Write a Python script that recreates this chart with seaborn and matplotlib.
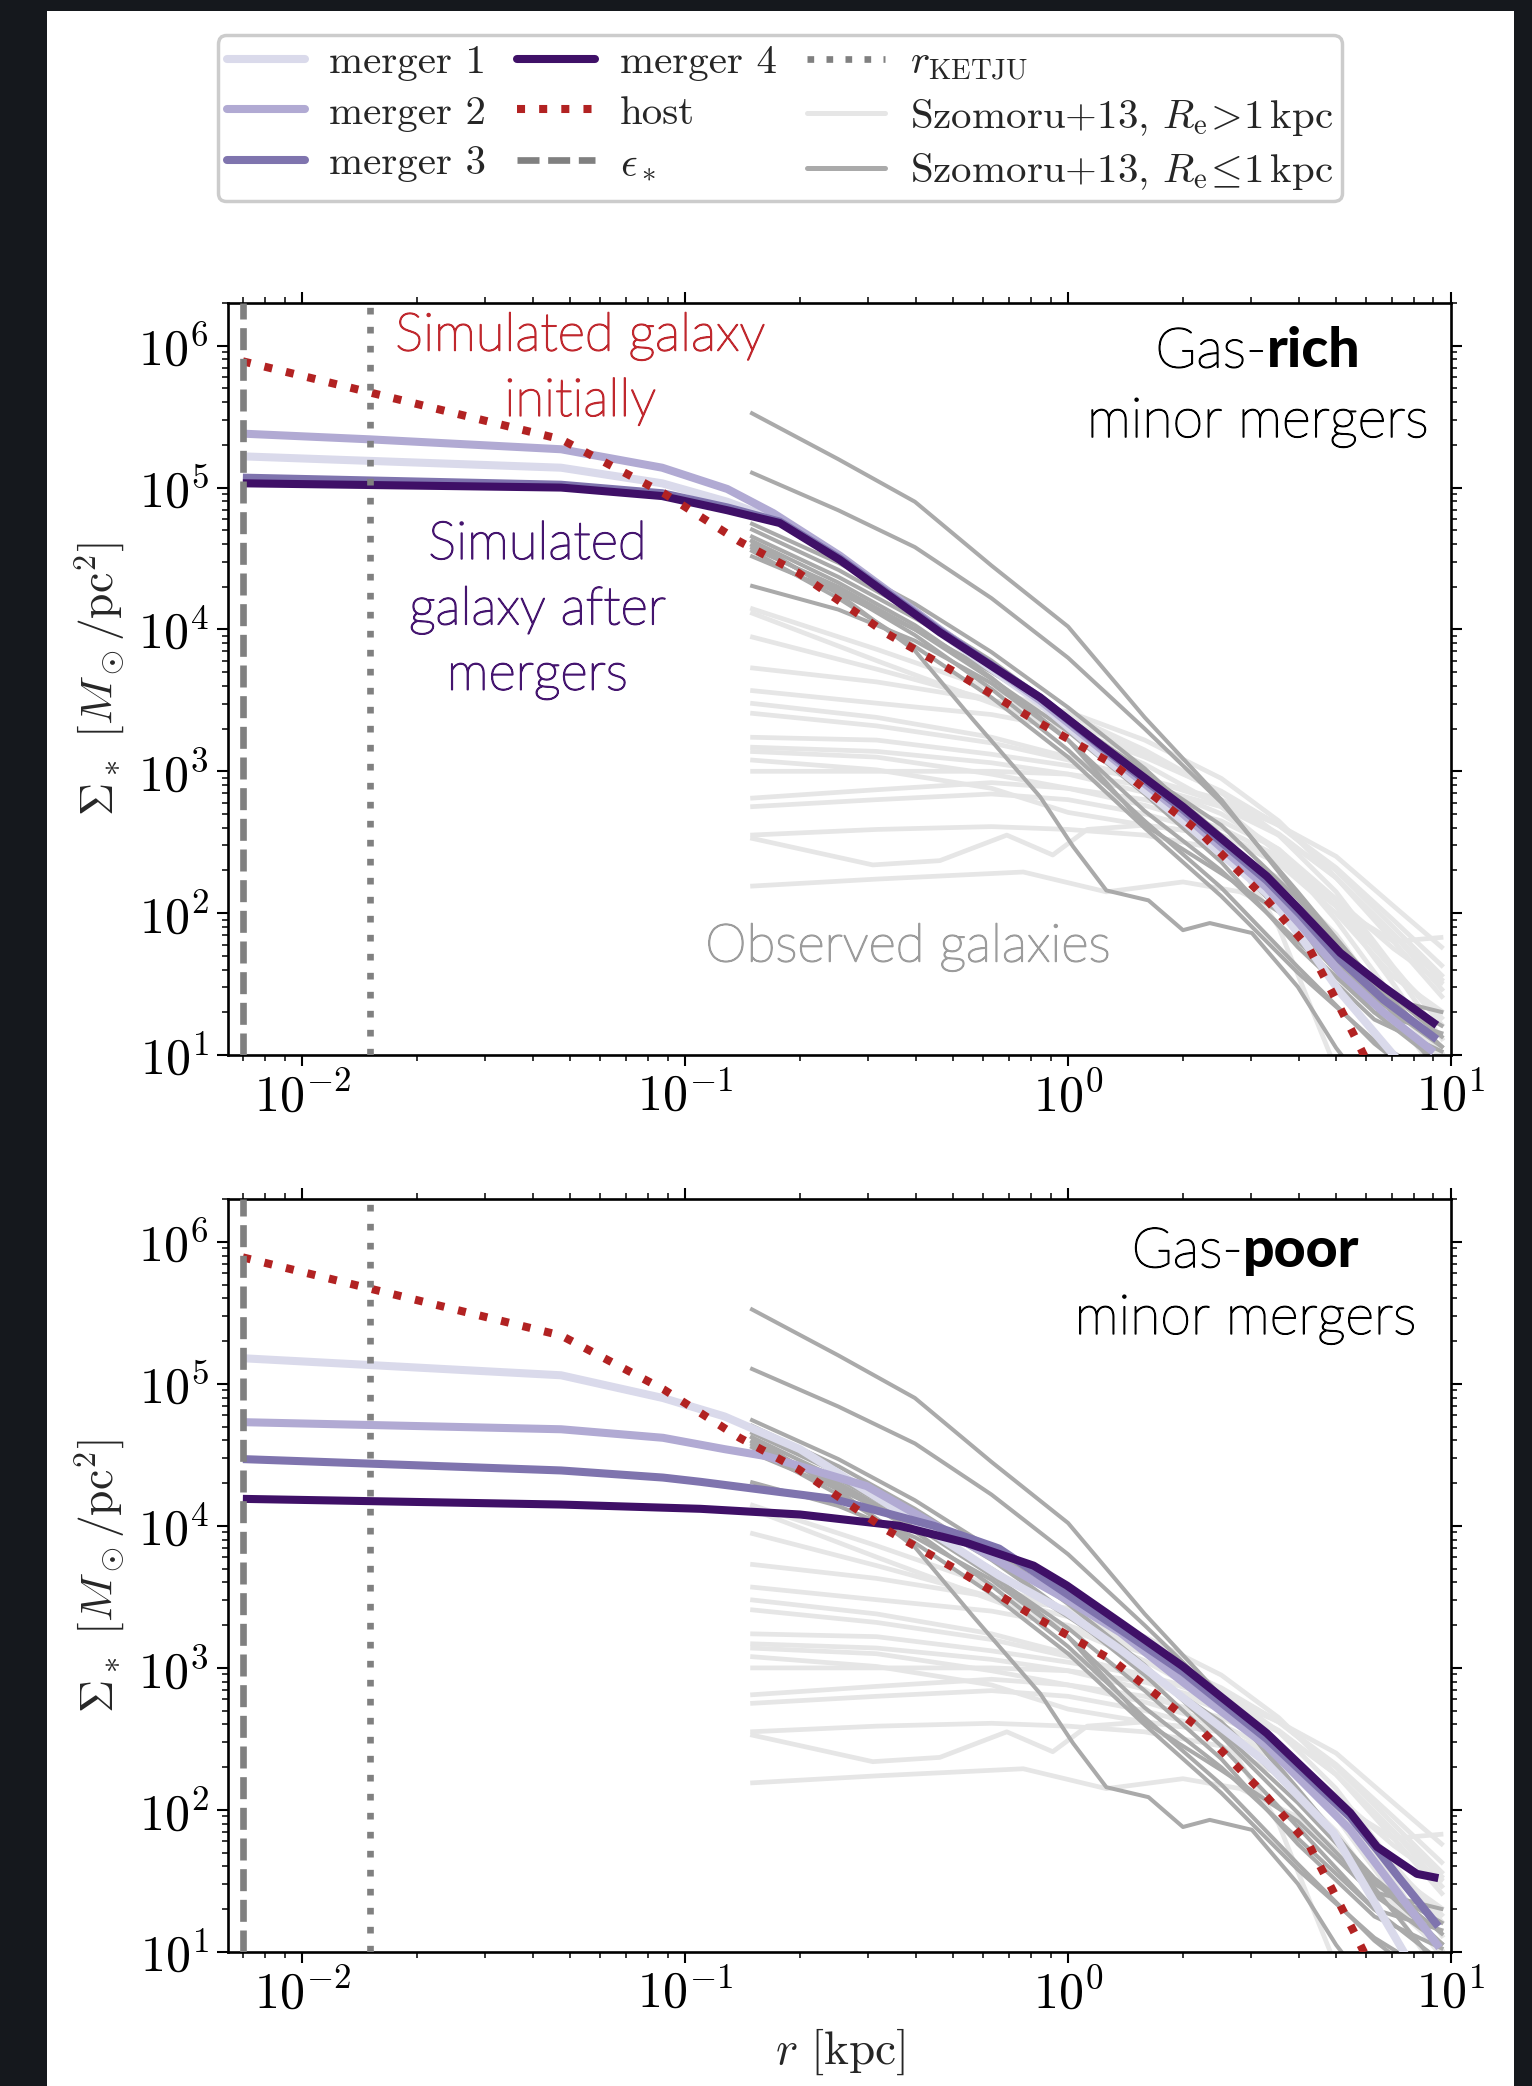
import numpy as np
import pandas as pd
import matplotlib
matplotlib.use("Agg")
import matplotlib.pyplot as plt
import matplotlib.patheffects as pe
import seaborn as sns
from matplotlib.lines import Line2D
from matplotlib.patches import Rectangle
from matplotlib.offsetbox import TextArea, HPacker, AnnotationBbox
from matplotlib.ticker import LogLocator, NullFormatter

# ---------------- data (log10 r [kpc], log10 Sigma [Msun/pc^2]) ----------------
EPS_STAR = 0.007
R_KETJU = 0.015

host_logr = [-2.155, -1.324, -1.056, -0.858, -0.705, -0.473, -0.296, -0.074, 0.118, 0.345, 0.52, 0.63, 0.69, 0.745, 0.80]
host_logS = [5.89, 5.34, 4.96, 4.62, 4.40, 3.97, 3.70, 3.34, 3.05, 2.57, 2.09, 1.75, 1.44, 1.15, 0.85]

# gas-rich panel
rich_m1_logr = [-2.155, -1.324, -1.06, -0.89, -0.75, -0.596, -0.335, -0.073, 0.084, 0.30, 0.519, 0.606, 0.711, 0.85, 0.90]
rich_m1_logS = [5.22, 5.14, 5.03, 4.90, 4.76, 4.50, 3.98, 3.48, 3.12, 2.65, 2.14, 1.84, 1.44, 1.00, 0.85]
rich_m2_logr = [-2.155, -1.824, -1.324, -1.06, -0.89, -0.77, -0.596, -0.335, -0.073, 0.084, 0.30, 0.519, 0.606, 0.711, 0.824, 0.955]
rich_m2_logS = [5.38, 5.34, 5.27, 5.14, 4.99, 4.82, 4.52, 4.00, 3.50, 3.16, 2.70, 2.18, 1.92, 1.58, 1.30, 1.02]
rich_m3_logr = [-2.155, -1.324, -1.06, -0.89, -0.753, -0.596, -0.335, -0.073, 0.084, 0.30, 0.519, 0.606, 0.711, 0.824, 0.963]
rich_m3_logS = [5.07, 5.02, 4.96, 4.86, 4.76, 4.50, 3.99, 3.52, 3.18, 2.73, 2.23, 1.99, 1.67, 1.39, 1.11]
rich_m4_logr = [-2.155, -1.324, -1.06, -0.89, -0.753, -0.596, -0.335, -0.073, 0.084, 0.30, 0.519, 0.606, 0.711, 0.824, 0.963]
rich_m4_logS = [5.03, 5.00, 4.94, 4.84, 4.75, 4.49, 3.98, 3.52, 3.19, 2.75, 2.26, 2.02, 1.72, 1.48, 1.21]

# gas-poor panel
poor_m1_logr = [-2.155, -1.324, -1.058, -0.897, -0.70, -0.44, -0.18, -0.003, 0.136, 0.30, 0.519, 0.693, 0.868, 0.92]
poor_m1_logS = [5.18, 5.06, 4.90, 4.77, 4.54, 4.10, 3.65, 3.39, 3.13, 2.79, 2.33, 1.84, 1.04, 0.80]
poor_m2_logr = [-2.155, -1.324, -1.058, -0.897, -0.787, -0.70, -0.526, -0.265, -0.003, 0.136, 0.30, 0.519, 0.737, 0.97]
poor_m2_logS = [4.73, 4.68, 4.62, 4.54, 4.49, 4.42, 4.28, 3.88, 3.48, 3.25, 2.90, 2.45, 1.86, 1.03]
poor_m3_logr = [-2.155, -1.324, -1.058, -0.96, -0.70, -0.614, -0.35, -0.18, 0.136, 0.30, 0.519, 0.737, 0.807, 0.868, 0.967]
poor_m3_logS = [4.47, 4.39, 4.34, 4.31, 4.22, 4.19, 4.00, 3.84, 3.27, 2.97, 2.50, 1.95, 1.72, 1.51, 1.18]
poor_m4_logr = [-2.155, -1.324, -0.96, -0.70, -0.44, -0.265, -0.09, -0.003, 0.136, 0.30, 0.519, 0.737, 0.807, 0.911, 0.967]
poor_m4_logS = [4.19, 4.15, 4.12, 4.08, 4.00, 3.88, 3.72, 3.58, 3.32, 3.01, 2.54, 1.98, 1.74, 1.55, 1.52]

# Szomoru+13 observed profiles
obs_grid_c = [-0.83, -0.6, -0.4, -0.2, 0.0, 0.2, 0.4, 0.6, 0.8, 0.98]
compact_1 = [5.53, 5.20, 4.90, 4.45, 4.02, 3.38, 2.80, 2.12, 1.45, 0.85]
compact_2 = [5.11, 4.84, 4.58, 4.22, 3.80, 3.30, 2.78, 2.15, 1.50, 1.05]
compact_3 = [4.75, 4.47, 4.18, 3.84, 3.45, 3.02, 2.52, 1.98, 1.42, 1.30]
compact_4 = [4.71, 4.42, 4.12, 3.78, 3.38, 2.95, 2.45, 1.88, 1.30, 0.92]
compact_5 = [4.66, 4.37, 4.08, 3.76, 3.38, 2.98, 2.62, 2.10, 1.52, 1.12]
compact_6 = [4.63, 4.33, 4.03, 3.66, 3.22, 2.72, 2.30, 1.80, 1.30, 1.15]
compact_7 = [4.60, 4.28, 3.96, 3.58, 3.15, 2.65, 2.18, 1.62, 1.08, 0.70]
compact_8 = [4.58, 4.30, 4.00, 3.65, 3.28, 2.84, 2.36, 1.76, 1.25, 1.02]
compact_9 = [4.52, 4.26, 4.00, 3.70, 3.36, 3.00, 2.55, 2.05, 1.48, 1.20]
compact_10 = [4.31, 4.14, 3.92, 3.62, 3.22, 2.62, 2.28, 1.92, 1.40, 1.05]
compact_11 = [4.56, 4.22, 3.88, 3.52, 3.10, 2.60, 2.12, 1.58, 1.10, 0.80]
compact_12_logr = [-0.83, -0.6, -0.4, -0.247, -0.073, 0.013, 0.10, 0.21, 0.30, 0.37, 0.48, 0.6, 0.7, 0.8]
compact_12_logS = [4.63, 4.25, 3.85, 3.36, 2.82, 2.47, 2.16, 2.09, 1.88, 1.93, 1.86, 1.48, 1.05, 0.70]

obs_grid_e = [-0.83, -0.5, -0.2, 0.0, 0.2, 0.4, 0.55, 0.7, 0.85, 0.98]
extended_1 = [4.15, 3.86, 3.58, 3.40, 3.15, 2.85, 2.55, 2.15, 1.62, 1.20]
extended_2 = [4.12, 3.78, 3.48, 3.28, 3.05, 2.75, 2.42, 1.95, 1.40, 0.95]
extended_3 = [3.95, 3.72, 3.50, 3.36, 3.12, 2.85, 2.62, 2.30, 1.90, 1.55]
extended_4 = [3.73, 3.63, 3.50, 3.42, 3.22, 2.95, 2.65, 2.25, 1.80, 1.40]
extended_5 = [3.57, 3.48, 3.40, 3.30, 3.10, 2.86, 2.62, 2.32, 1.95, 1.62]
extended_6 = [3.48, 3.38, 3.24, 3.10, 2.92, 2.70, 2.45, 2.10, 1.60, 1.10]
extended_7 = [3.41, 3.32, 3.20, 3.08, 2.95, 2.78, 2.56, 2.25, 1.85, 1.45]
extended_8 = [3.24, 3.22, 3.12, 3.04, 2.95, 2.80, 2.62, 2.40, 2.05, 1.75]
extended_9 = [3.17, 3.14, 3.06, 2.98, 2.85, 2.55, 1.90, 0.90, 0.50, 0.30]
extended_10 = [3.14, 3.10, 2.98, 2.88, 2.76, 2.60, 2.40, 2.05, 1.60, 1.25]
extended_11 = [3.08, 3.01, 2.88, 2.71, 2.62, 2.55, 2.38, 2.10, 1.75, 1.50]
extended_12 = [3.00, 3.00, 3.00, 2.98, 2.90, 2.75, 2.55, 2.25, 1.85, 1.52]
extended_13 = [2.81, 2.87, 2.92, 2.88, 2.80, 2.65, 2.45, 2.05, 1.50, 1.00]
extended_14 = [2.75, 2.80, 2.84, 2.80, 2.70, 2.55, 2.35, 2.05, 1.80, 1.83]
extended_15 = [2.55, 2.59, 2.61, 2.59, 2.55, 2.45, 2.25, 1.85, 1.30, 0.80]
extended_16_logr = [-0.83, -0.51, -0.335, -0.16, -0.04, 0.05, 0.2, 0.4, 0.55, 0.7, 0.85, 0.98]
extended_16_logS = [2.53, 2.34, 2.37, 2.55, 2.41, 2.59, 2.62, 2.55, 2.35, 2.00, 1.55, 1.30]
extended_17_logr = [-0.83, -0.5, -0.117, 0.10, 0.3, 0.45, 0.6, 0.75, 0.9, 0.98]
extended_17_logS = [2.19, 2.24, 2.29, 2.15, 2.22, 2.15, 1.95, 1.60, 1.20, 1.00]

compact_curves = [(obs_grid_c, c) for c in [compact_1, compact_2, compact_3, compact_4, compact_5, compact_6,
                                             compact_7, compact_8, compact_9, compact_10, compact_11]]
compact_curves.append((compact_12_logr, compact_12_logS))
extended_curves = [(obs_grid_e, e) for e in [extended_1, extended_2, extended_3, extended_4, extended_5, extended_6,
                                              extended_7, extended_8, extended_9, extended_10, extended_11, extended_12,
                                              extended_13, extended_14, extended_15]]
extended_curves += [(extended_16_logr, extended_16_logS), (extended_17_logr, extended_17_logS)]

legend_labels = ["merger 1", "merger 2", "merger 3", "merger 4", "host", r"$\epsilon_*$",
                 r"$r_\mathrm{KETJU}$", r"Szomoru+13, $R_\mathrm{e}\!>\!1\,\mathrm{kpc}$",
                 r"Szomoru+13, $R_\mathrm{e}\!\leq\!1\,\mathrm{kpc}$"]

# ---------------- styles ----------------
C_M = ["#dadaeb", "#b1aad3", "#7f74ae", "#3f1067"]
C_HOST = "#b22222"
C_VL = "#808080"
C_LIGHT = "#e6e6e6"
C_DARK = "#aaaaaa"
LW_SIM = 5.8
LS_HOST = (0, (1.0, 1.75))
LS_EPS = (0, (3.3, 1.3))
LS_KETJU = (0, (1.0, 1.85))

sns.set_theme(style="ticks")
plt.rcParams.update({
    "font.family": "serif",
    "font.serif": ["cmr10", "DejaVu Serif"],
    "mathtext.fontset": "cm",
    "axes.formatter.use_mathtext": True,
    "axes.unicode_minus": True,
    "axes.edgecolor": "black",
    "xtick.color": "black",
    "ytick.color": "black",
})

W, H = 1532, 2086
fig = plt.figure(figsize=(W / 100, H / 100), dpi=100, facecolor="#15181d")
fig.add_artist(Rectangle((47 / W, 0), (1514 - 47) / W, (H - 11) / H, transform=fig.transFigure,
                         facecolor="white", edgecolor="none", zorder=-10))

L, R = 228, 1451
ax_top = fig.add_axes([L / W, 1 - 1055 / H, (R - L) / W, 752 / H])
ax_bot = fig.add_axes([L / W, 1 - 1952 / H, (R - L) / W, 753 / H])


def draw(ax, logr, logS, color, lw, z, ls=None):
    df = pd.DataFrame({"r": 10 ** np.asarray(logr, float), "S": 10 ** np.asarray(logS, float)})
    sns.lineplot(data=df, x="r", y="S", ax=ax, estimator=None, sort=False, legend=False,
                 color=color, lw=lw, zorder=z)
    line = ax.lines[-1]
    if ls is not None:
        line.set_linestyle(ls)
        line.set_dash_capstyle("butt")
    line.set_solid_capstyle("butt")
    line.set_solid_joinstyle("round")
    return line


panels = [
    (ax_top, [(rich_m1_logr, rich_m1_logS), (rich_m2_logr, rich_m2_logS),
              (rich_m3_logr, rich_m3_logS), (rich_m4_logr, rich_m4_logS)]),
    (ax_bot, [(poor_m1_logr, poor_m1_logS), (poor_m2_logr, poor_m2_logS),
              (poor_m3_logr, poor_m3_logS), (poor_m4_logr, poor_m4_logS)]),
]

for ax, mergers in panels:
    ax.set_xscale("log")
    ax.set_yscale("log")
    for lr, ls_ in extended_curves:
        draw(ax, lr, ls_, C_LIGHT, 3.4, 1)
    for lr, ls_ in compact_curves:
        draw(ax, lr, ls_, C_DARK, 2.9, 2)
    for i, (lr, ls_) in enumerate(mergers):
        draw(ax, lr, ls_, C_M[i], LW_SIM, 3 + i)
    draw(ax, host_logr, host_logS, C_HOST, 5.8, 8, ls=LS_HOST)
    ax.axvline(EPS_STAR, color=C_VL, lw=4.8, ls=LS_EPS, zorder=9, dash_capstyle="butt")
    ax.axvline(R_KETJU, color=C_VL, lw=4.8, ls=LS_KETJU, zorder=9, dash_capstyle="butt")

    ax.set_xlim(0.0064, 10.0)
    ax.set_ylim(10, 2e6)
    ax.xaxis.set_major_locator(LogLocator(base=10, numticks=20))
    ax.xaxis.set_minor_locator(LogLocator(base=10, subs=np.arange(2, 10), numticks=100))
    ax.yaxis.set_major_locator(LogLocator(base=10, numticks=20))
    ax.yaxis.set_minor_locator(LogLocator(base=10, subs=np.arange(2, 10), numticks=100))
    ax.xaxis.set_minor_formatter(NullFormatter())
    ax.yaxis.set_minor_formatter(NullFormatter())
    ax.tick_params(which="both", direction="out", top=True, right=True, bottom=True, left=True,
                   labeltop=False, labelright=False, colors="black")
    ax.tick_params(which="major", length=8, width=1.5, labelsize=36, pad=4)
    ax.tick_params(axis="y", which="major", pad=6)
    ax.tick_params(which="minor", length=4.5, width=1.1)
    for s in ax.spines.values():
        s.set_linewidth(1.9)
        s.set_color("black")
        s.set_visible(True)
    ax.set_ylabel(r"$\Sigma_*\ [M_\odot/\mathrm{pc}^2]$", fontsize=33, labelpad=8)
    ax.set_xlabel("")
    ax.set_facecolor("white")

ax_bot.set_xlabel(r"$r\ [\mathrm{kpc}]$", fontsize=34, labelpad=6)

# ---------------- annotations ----------------
SANS = ["Lato", "DejaVu Sans"]


def thick(color, w=1.1):
    return [pe.withStroke(linewidth=w, foreground=color)]


ax_top.text(0.288, 0.913, "Simulated galaxy\ninitially", transform=ax_top.transAxes, ha="center", va="center",
            fontsize=38, color="#c0282e", family=SANS, fontweight="light", linespacing=1.42, zorder=10,
            path_effects=thick("#c0282e"))
ax_top.text(0.253, 0.592, "Simulated\ngalaxy after\nmergers", transform=ax_top.transAxes, ha="center",
            va="center", fontsize=38, color="#45156f", family=SANS, fontweight="light", linespacing=1.42,
            zorder=10, path_effects=thick("#45156f"))
ax_top.text(0.556, 0.144, "Observed galaxies", transform=ax_top.transAxes, ha="center", va="center",
            fontsize=38, color="#9c9c9c", family=SANS, fontweight="light", zorder=10,
            path_effects=thick("#9c9c9c"))


def title_block(ax, x, y1, y2, bold_word):
    p_light = dict(fontsize=40, color="black", family=SANS, fontweight="light", path_effects=thick("black", 1.0))
    p_bold = dict(fontsize=40, color="black", family=SANS, fontweight="black")
    box = HPacker(children=[TextArea("Gas-", textprops=p_light), TextArea(bold_word, textprops=p_bold)],
                  align="baseline", pad=0, sep=0)
    ab = AnnotationBbox(box, (x, y1), xycoords="axes fraction", frameon=False, box_alignment=(0.5, 0.5),
                        zorder=10)
    ax.add_artist(ab)
    ax.text(x, y2, "minor mergers", transform=ax.transAxes, ha="center", va="center", zorder=10, **p_light)


title_block(ax_top, 0.842, 0.935, 0.842, "rich")
title_block(ax_bot, 0.832, 0.930, 0.841, "poor")

# ---------------- legend ----------------
handles = [Line2D([], [], color=C_M[0], lw=LW_SIM), Line2D([], [], color=C_M[1], lw=LW_SIM),
           Line2D([], [], color=C_M[2], lw=LW_SIM), Line2D([], [], color=C_M[3], lw=LW_SIM),
           Line2D([], [], color=C_HOST, lw=5.8, ls=LS_HOST, dash_capstyle="butt"),
           Line2D([], [], color=C_VL, lw=4.8, ls=LS_EPS, dash_capstyle="butt"),
           Line2D([], [], color=C_VL, lw=4.8, ls=LS_KETJU, dash_capstyle="butt"),
           Line2D([], [], color=C_LIGHT, lw=3.6), Line2D([], [], color=C_DARK, lw=3.6)]
leg = fig.legend(handles, legend_labels, ncol=3, loc="upper center", bbox_to_anchor=(0.509, 0.983),
                 fontsize=29.5, frameon=True, fancybox=True, edgecolor="#cccccc", facecolor="white",
                 framealpha=1, handlelength=1.9, handletextpad=0.6, columnspacing=0.75,
                 labelspacing=0.34, borderpad=0.22, borderaxespad=0.0)
leg.get_frame().set_linewidth(2.5)

fig.savefig("out.png", dpi=100, facecolor=fig.get_facecolor())
